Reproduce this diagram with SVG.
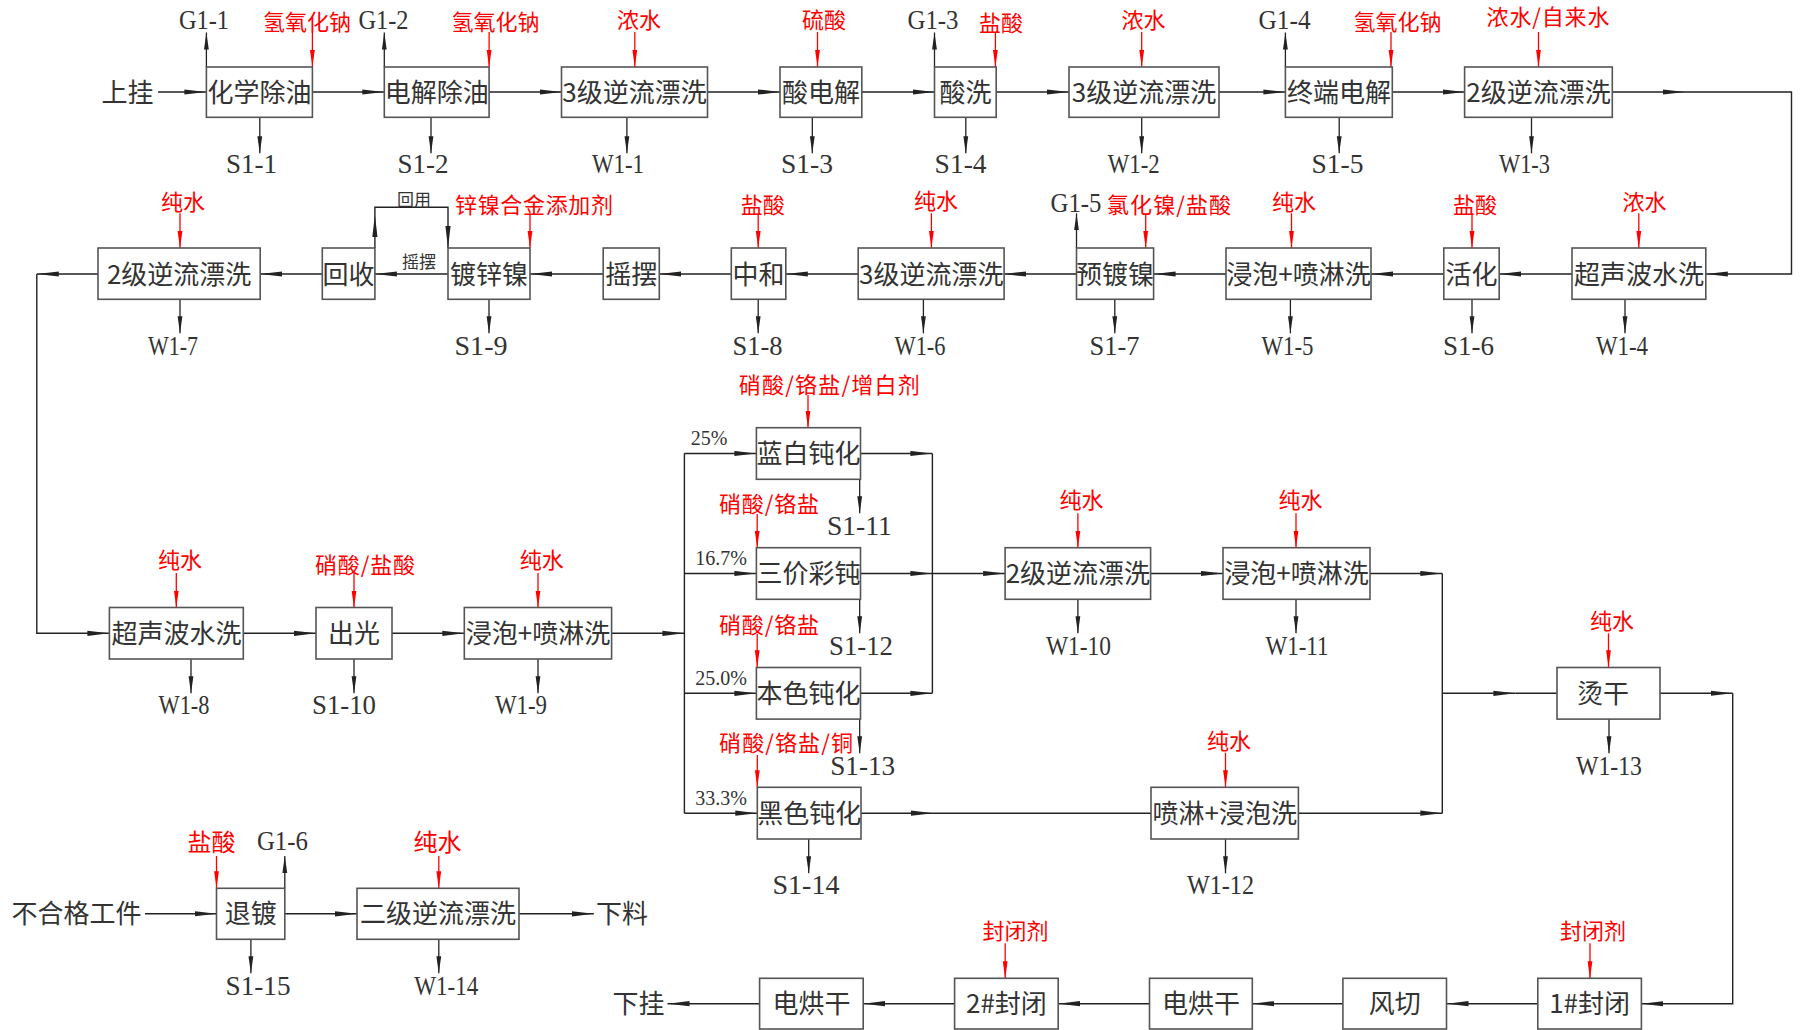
<svg xmlns="http://www.w3.org/2000/svg" width="1803" height="1030" viewBox="0 0 1803 1030">
<style>
.bx{fill:#fff;stroke:#555;stroke-width:1.6}
.t{font-family:"Noto Sans CJK SC","Noto Sans",sans-serif;font-size:26px;fill:#333;text-anchor:middle}
.r{font-family:"Noto Sans CJK SC","Noto Sans",sans-serif;font-size:22px;fill:#ff0000;text-anchor:middle}
.r2{font-size:24px}
.l{font-family:"Liberation Serif",serif;font-size:27px;fill:#333;text-anchor:middle}
.sm{font-family:"Noto Sans CJK SC",sans-serif;font-size:17px;fill:#333;text-anchor:middle}
.p{font-family:"Liberation Serif",serif;font-size:20px;fill:#333;text-anchor:middle}
.c{fill:none;stroke:#222;stroke-width:1.4}
.a{marker-end:url(#a)}
.v{fill:none;stroke:#222;stroke-width:1.3;marker-end:url(#av)}
.rd{fill:none;stroke:#ff0000;stroke-width:1.3;marker-end:url(#ar)}
</style>
<defs>
<marker id="a" viewBox="0 0 22 6" refX="22" refY="3" markerWidth="22" markerHeight="6" markerUnits="userSpaceOnUse" orient="auto"><path d="M0,0.4 L22,3 L0,5.6 Z" fill="#222"/></marker>
<marker id="av" viewBox="0 0 17 6" refX="17" refY="3" markerWidth="17" markerHeight="6" markerUnits="userSpaceOnUse" orient="auto"><path d="M0,0.6 L17,3 L0,5.4 Z" fill="#222"/></marker>
<marker id="ar" viewBox="0 0 17 6" refX="17" refY="3" markerWidth="17" markerHeight="6" markerUnits="userSpaceOnUse" orient="auto"><path d="M0,0.6 L17,3 L0,5.4 Z" fill="#ff0000"/></marker>
</defs>
<rect width="1803" height="1030" fill="#fff"/>

<g id="connectors">
<path class="c a" d="M158,92 H206.4"/>
<path class="c a" d="M312.4,92 H384.3"/>
<path class="c a" d="M489.1,92 H561.5"/>
<path class="c a" d="M707.5,92 H780"/>
<path class="c a" d="M861.8,92 H934.5"/>
<path class="c a" d="M996.2,92 H1069"/>
<path class="c a" d="M1219,92 H1285.4"/>
<path class="c a" d="M1392.3,92 H1464.6"/>
<path class="c a" d="M1612.3,92 H1685"/>
<path class="c a" d="M1685,92 H1791.5 V274 H1705.8"/>
<path class="c a" d="M1572,274 H1499.2"/>
<path class="c a" d="M1443.8,274 H1371"/>
<path class="c a" d="M1226,274 H1153.6"/>
<path class="c a" d="M1076.5,274 H1004.1"/>
<path class="c a" d="M858.2,274 H785.8"/>
<path class="c a" d="M731.3,274 H659.3"/>
<path class="c a" d="M603.2,274 H530"/>
<path class="c a" d="M448,274 H374.9"/>
<path class="c a" d="M322.3,274 H260.2"/>
<path class="c a" d="M98,274 H36.8"/>
<path class="c a" d="M36.8,274 V633.3 H109.4"/>
<path class="c a" d="M374.9,248 V215"/>
<path class="c a" d="M374.9,215 V207.3 H448 V248"/>
<path class="c a" d="M243.3,633.3 H316"/>
<path class="c a" d="M392,633.3 H464.3"/>
<path class="c a" d="M611.6,633.3 H684.4"/>
<path class="c" d="M684.4,453.5 V813.2"/>
<path class="c a" d="M684.4,453.5 H756.4"/>
<path class="c a" d="M684.4,573.5 H756.4"/>
<path class="c a" d="M684.4,693.3 H756.4"/>
<path class="c a" d="M684.4,813.2 H757.3"/>
<path class="c a" d="M860.5,453.5 H932.4"/>
<path class="c a" d="M860.5,573.5 H932.4"/>
<path class="c a" d="M860.5,693.3 H932.4"/>
<path class="c" d="M932.4,453.5 V693.3"/>
<path class="c a" d="M932.4,573.5 H1005.1"/>
<path class="c a" d="M861,813.2 H933"/>
<path class="c" d="M933,813.2 H1151"/>
<path class="c a" d="M1150.6,573.5 H1222.9"/>
<path class="c a" d="M1370,573.5 H1442.3"/>
<path class="c" d="M1442.3,573.5 V813.2"/>
<path class="c a" d="M1298.4,813.2 H1442.3"/>
<path class="c a" d="M1442.3,693.3 H1515.4"/>
<path class="c" d="M1515.4,693.3 H1557"/>
<path class="c a" d="M1660,693.3 H1732.7"/>
<path class="c a" d="M1732.7,693.3 V1003.7 H1641.4"/>
<path class="c a" d="M1537.8,1003.7 H1446.5"/>
<path class="c a" d="M1342.9,1003.7 H1252.3"/>
<path class="c a" d="M1149.5,1003.7 H1058.2"/>
<path class="c a" d="M954.6,1003.7 H863.2"/>
<path class="c a" d="M759.6,1003.7 H667.5"/>
<path class="c a" d="M145,913.8 H216.5"/>
<path class="c a" d="M284.8,913.8 H357"/>
<path class="c a" d="M519,913.8 H593.8"/>

<path class="v" d="M206.4,67 V32.5"/>
<path class="v" d="M384.3,67 V32.5"/>
<path class="v" d="M934.5,67 V32.5"/>
<path class="v" d="M1285.4,67 V32.5"/>
<path class="v" d="M259.8,117.3 V153.3"/>
<path class="v" d="M431,117.3 V153.3"/>
<path class="v" d="M626.9,117.3 V153.3"/>
<path class="v" d="M812.3,117.3 V153.3"/>
<path class="v" d="M965.8,117.3 V153.3"/>
<path class="v" d="M1141.7,117.3 V153.3"/>
<path class="v" d="M1339.2,117.3 V153.3"/>
<path class="v" d="M1531.5,117.3 V153.3"/>
<path class="rd" d="M312.4,32 V67"/>
<path class="rd" d="M489.1,32 V67"/>
<path class="rd" d="M634.8,32 V67"/>
<path class="rd" d="M817.5,32 V67"/>
<path class="rd" d="M995.4,32 V67"/>
<path class="rd" d="M1141.7,32 V67"/>
<path class="rd" d="M1391,32 V67"/>
<path class="rd" d="M1538.5,32 V67"/>
<path class="v" d="M1076.5,248 V213.3"/>
<path class="v" d="M180,299.3 V333.3"/>
<path class="v" d="M489,299.3 V333.3"/>
<path class="v" d="M758.2,299.3 V333.3"/>
<path class="v" d="M923.4,299.3 V333.3"/>
<path class="v" d="M1114.8,299.3 V333.3"/>
<path class="v" d="M1290.4,299.3 V333.3"/>
<path class="v" d="M1472,299.3 V333.3"/>
<path class="v" d="M1625,299.3 V333.3"/>
<path class="rd" d="M180,213.3 V248"/>
<path class="rd" d="M530,213.3 V248"/>
<path class="rd" d="M758.2,213.3 V248"/>
<path class="rd" d="M931.4,213.3 V248"/>
<path class="rd" d="M1145.7,213.3 V248"/>
<path class="rd" d="M1291.5,213.3 V248"/>
<path class="rd" d="M1472,213.3 V248"/>
<path class="rd" d="M1638.8,213.3 V248"/>
<path class="v" d="M191,659 V693.3"/>
<path class="v" d="M354,659 V693.3"/>
<path class="v" d="M538,659 V693.3"/>
<path class="v" d="M859.7,479.3 V513.3"/>
<path class="v" d="M859.7,599.3 V633.3"/>
<path class="v" d="M859.7,719.3 V753.3"/>
<path class="v" d="M808.7,839 V873.3"/>
<path class="v" d="M1077.9,599.3 V633.3"/>
<path class="v" d="M1296,599.3 V633.3"/>
<path class="v" d="M1225.5,839 V873.3"/>
<path class="v" d="M1609,719.3 V753.3"/>
<path class="rd" d="M176.3,573 V607.5"/>
<path class="rd" d="M354,573 V607.5"/>
<path class="rd" d="M538,573 V607.5"/>
<path class="rd" d="M808,395 V427.7"/>
<path class="rd" d="M757.2,514 V547.7"/>
<path class="rd" d="M757.2,634 V667.3"/>
<path class="rd" d="M757.3,755 V787.3"/>
<path class="rd" d="M1077.9,513.3 V547.7"/>
<path class="rd" d="M1296,513.3 V547.7"/>
<path class="rd" d="M1225.5,752.7 V787.3"/>
<path class="rd" d="M1608.5,633.3 V667.3"/>
<path class="rd" d="M1590,943.3 V978.3"/>
<path class="rd" d="M1005.2,943.3 V978.3"/>
<path class="rd" d="M216.5,856 V888.3"/>
<path class="v" d="M284.8,888.3 V856"/>
<path class="v" d="M250.9,939.3 V973.3"/>
<path class="rd" d="M438.8,856 V888.3"/>
<path class="v" d="M438.8,939.3 V973.3"/>
</g>

<g id="start"><text class="t" x="127.5" y="101.5">上挂</text></g>
<g id="n-chem-degrease"><rect class="bx" x="206.4" y="67" width="106" height="50.3"/><text class="t" x="259.4" y="101.5">化学除油</text></g>
<g id="n-elec-degrease"><rect class="bx" x="384.3" y="67" width="104.8" height="50.3"/><text class="t" x="436.7" y="101.5">电解除油</text></g>
<g id="n-rinse1"><rect class="bx" x="561.5" y="67" width="146" height="50.3"/><text class="t" x="634.5" y="101.5">3级逆流漂洗</text></g>
<g id="n-acid-elec"><rect class="bx" x="780" y="67" width="81.8" height="50.3"/><text class="t" x="820.9" y="101.5">酸电解</text></g>
<g id="n-pickle"><rect class="bx" x="934.5" y="67" width="61.7" height="50.3"/><text class="t" x="965.4" y="101.5">酸洗</text></g>
<g id="n-rinse2"><rect class="bx" x="1069" y="67" width="150" height="50.3"/><text class="t" x="1144" y="101.5">3级逆流漂洗</text></g>
<g id="n-final-elec"><rect class="bx" x="1285.4" y="67" width="106.9" height="50.3"/><text class="t" x="1338.9" y="101.5">终端电解</text></g>
<g id="n-rinse3"><rect class="bx" x="1464.6" y="67" width="147.7" height="50.3"/><text class="t" x="1538.5" y="101.5">2级逆流漂洗</text></g>

<g id="n-ultra1"><rect class="bx" x="1572" y="248" width="133.8" height="51.3"/><text class="t" x="1638.9" y="283.5">超声波水洗</text></g>
<g id="n-activate"><rect class="bx" x="1443.8" y="248" width="55.4" height="51.3"/><text class="t" x="1471.5" y="283.5">活化</text></g>
<g id="n-soak1"><rect class="bx" x="1226" y="248" width="145" height="51.3"/><text class="t" x="1298.5" y="283.5">浸泡+喷淋洗</text></g>
<g id="n-preplate"><rect class="bx" x="1076.5" y="248" width="77.1" height="51.3"/><text class="t" x="1115" y="283.5">预镀镍</text></g>
<g id="n-rinse4"><rect class="bx" x="858.2" y="248" width="145.9" height="51.3"/><text class="t" x="931.2" y="283.5">3级逆流漂洗</text></g>
<g id="n-neutral"><rect class="bx" x="731.3" y="248" width="54.5" height="51.3"/><text class="t" x="758.6" y="283.5">中和</text></g>
<g id="n-swing"><rect class="bx" x="603.2" y="248" width="56.1" height="51.3"/><text class="t" x="631.3" y="283.5">摇摆</text></g>
<g id="n-znni"><rect class="bx" x="448" y="248" width="82" height="51.3"/><text class="t" x="489" y="283.5">镀锌镍</text></g>
<g id="n-recover"><rect class="bx" x="322.3" y="248" width="52.6" height="51.3"/><text class="t" x="348.6" y="283.5">回收</text></g>
<g id="n-rinse5"><rect class="bx" x="98" y="248" width="162.2" height="51.3"/><text class="t" x="179.1" y="283.5">2级逆流漂洗</text></g>
<g id="lbl-loop"><text class="sm" x="414" y="205.5">回用</text><text class="sm" x="419" y="268" font-size="18">摇摆</text></g>

<g id="n-ultra2"><rect class="bx" x="109.4" y="607.5" width="133.9" height="51.5"/><text class="t" x="176.4" y="643">超声波水洗</text></g>
<g id="n-bright"><rect class="bx" x="316" y="607.5" width="76" height="51.5"/><text class="t" x="354" y="643">出光</text></g>
<g id="n-soak2"><rect class="bx" x="464.3" y="607.5" width="147.3" height="51.5"/><text class="t" x="538" y="643">浸泡+喷淋洗</text></g>
<g id="n-blue"><rect class="bx" x="756.4" y="427.7" width="104.1" height="51.6"/><text class="t" x="808.5" y="463">蓝白钝化</text></g>
<g id="n-tri"><rect class="bx" x="756.4" y="547.7" width="104.1" height="51.6"/><text class="t" x="808.5" y="583">三价彩钝</text></g>
<g id="n-natural"><rect class="bx" x="756.4" y="667.5" width="104.1" height="51.6"/><text class="t" x="808.5" y="702.8">本色钝化</text></g>
<g id="n-black"><rect class="bx" x="757.3" y="787.3" width="103.7" height="51.7"/><text class="t" x="809.2" y="822.7">黑色钝化</text></g>
<g id="n-rinse6"><rect class="bx" x="1005.1" y="547.7" width="145.5" height="51.6"/><text class="t" x="1077.9" y="583">2级逆流漂洗</text></g>
<g id="n-soak3"><rect class="bx" x="1223" y="547.7" width="147" height="51.6"/><text class="t" x="1296.5" y="583">浸泡+喷淋洗</text></g>
<g id="n-spray"><rect class="bx" x="1151" y="787.3" width="147.4" height="51.7"/><text class="t" x="1224.7" y="822.7">喷淋+浸泡洗</text></g>
<g id="n-hotdry"><rect class="bx" x="1557" y="667.5" width="103" height="51.6"/><text class="t" x="1603" y="702.8">烫干</text></g>
<g id="pct"><text class="p" x="709" y="445">25%</text><text class="p" x="721" y="565">16.7%</text><text class="p" x="721" y="685">25.0%</text><text class="p" x="721" y="805">33.3%</text></g>

<g id="n-seal1"><rect class="bx" x="1537.8" y="978.3" width="103.6" height="50.7"/><text class="t" x="1589.6" y="1013.2">1#封闭</text></g>
<g id="n-aircut"><rect class="bx" x="1342.9" y="978.3" width="103.6" height="50.7"/><text class="t" x="1394.7" y="1013.2">风切</text></g>
<g id="n-dry1"><rect class="bx" x="1149.5" y="978.3" width="102.8" height="50.7"/><text class="t" x="1200.9" y="1013.2">电烘干</text></g>
<g id="n-seal2"><rect class="bx" x="954.6" y="978.3" width="103.6" height="50.7"/><text class="t" x="1006.4" y="1013.2">2#封闭</text></g>
<g id="n-dry2"><rect class="bx" x="759.6" y="978.3" width="103.6" height="50.7"/><text class="t" x="811.4" y="1013.2">电烘干</text></g>
<g id="end"><text class="t" x="638.4" y="1013.2">下挂</text></g>

<g id="reject"><text class="t" x="76.5" y="923.3">不合格工件</text></g>
<g id="n-strip"><rect class="bx" x="216.5" y="888.3" width="68.3" height="51"/><text class="t" x="250.7" y="923.3">退镀</text></g>
<g id="n-rinse7"><rect class="bx" x="357" y="888.3" width="162" height="51"/><text class="t" x="438" y="923.3">二级逆流漂洗</text></g>
<g id="unload"><text class="t" x="622" y="923.3">下料</text></g>

<g id="inputs">
<text class="r" x="307" y="30">氢氧化钠</text>
<text class="r" x="495.5" y="30">氢氧化钠</text>
<text class="r" x="639" y="27.5">浓水</text>
<text class="r" x="824" y="28">硫酸</text>
<text class="r" x="1001" y="31">盐酸</text>
<text class="r" x="1143.5" y="27.5">浓水</text>
<text class="r" x="1397.5" y="30">氢氧化钠</text>
<text class="r" x="1548" y="24.5" textLength="123" lengthAdjust="spacing">浓水/自来水</text>
<text class="r" x="183" y="209.5">纯水</text>
<text class="r" x="534" y="212.5" textLength="158" lengthAdjust="spacing">锌镍合金添加剂</text>
<text class="r" x="762.7" y="213">盐酸</text>
<text class="r" x="936" y="209">纯水</text>
<text class="r" x="1169" y="212.5" textLength="124" lengthAdjust="spacing">氯化镍/盐酸</text>
<text class="r" x="1294" y="210">纯水</text>
<text class="r" x="1475" y="213">盐酸</text>
<text class="r" x="1644.5" y="210">浓水</text>
<text class="r" x="180" y="568">纯水</text>
<text class="r" x="365" y="572.5" textLength="100" lengthAdjust="spacing">硝酸/盐酸</text>
<text class="r" x="541.7" y="568">纯水</text>
<text class="r" x="829.3" y="392.5" textLength="181" lengthAdjust="spacing">硝酸/铬盐/增白剂</text>
<text class="r" x="769" y="512" textLength="100" lengthAdjust="spacing">硝酸/铬盐</text>
<text class="r" x="769" y="632.5" textLength="100" lengthAdjust="spacing">硝酸/铬盐</text>
<text class="r" x="786" y="751" textLength="134" lengthAdjust="spacing">硝酸/铬盐/铜</text>
<text class="r" x="1081.5" y="508">纯水</text>
<text class="r" x="1300.5" y="508">纯水</text>
<text class="r" x="1229" y="748.5">纯水</text>
<text class="r" x="1612" y="628.5">纯水</text>
<text class="r" x="1593" y="939">封闭剂</text>
<text class="r" x="1015.5" y="939">封闭剂</text>
<text class="r r2" x="211.6" y="851">盐酸</text>
<text class="r r2" x="437.5" y="851">纯水</text>
</g>

<g id="outputs">
<text class="l" x="204" y="29.3" textLength="50" lengthAdjust="spacingAndGlyphs">G1-1</text>
<text class="l" x="383.5" y="29.3" textLength="50" lengthAdjust="spacingAndGlyphs">G1-2</text>
<text class="l" x="933" y="28.5" textLength="51" lengthAdjust="spacingAndGlyphs">G1-3</text>
<text class="l" x="1284.6" y="28.5" textLength="52" lengthAdjust="spacingAndGlyphs">G1-4</text>
<text class="l" x="251.5" y="173" textLength="51" lengthAdjust="spacingAndGlyphs">S1-1</text>
<text class="l" x="423" y="173" textLength="51" lengthAdjust="spacingAndGlyphs">S1-2</text>
<text class="l" x="618" y="173" textLength="52" lengthAdjust="spacingAndGlyphs">W1-1</text>
<text class="l" x="807" y="173" textLength="52" lengthAdjust="spacingAndGlyphs">S1-3</text>
<text class="l" x="960.6" y="173" textLength="52" lengthAdjust="spacingAndGlyphs">S1-4</text>
<text class="l" x="1133.7" y="173" textLength="52" lengthAdjust="spacingAndGlyphs">W1-2</text>
<text class="l" x="1337.5" y="173" textLength="52" lengthAdjust="spacingAndGlyphs">S1-5</text>
<text class="l" x="1524.5" y="173" textLength="51" lengthAdjust="spacingAndGlyphs">W1-3</text>
<text class="l" x="1076" y="211.5" textLength="51" lengthAdjust="spacingAndGlyphs">G1-5</text>
<text class="l" x="173" y="355" textLength="50" lengthAdjust="spacingAndGlyphs">W1-7</text>
<text class="l" x="481" y="355" textLength="53" lengthAdjust="spacingAndGlyphs">S1-9</text>
<text class="l" x="757.6" y="355" textLength="50" lengthAdjust="spacingAndGlyphs">S1-8</text>
<text class="l" x="920" y="355" textLength="51" lengthAdjust="spacingAndGlyphs">W1-6</text>
<text class="l" x="1114.6" y="355" textLength="50" lengthAdjust="spacingAndGlyphs">S1-7</text>
<text class="l" x="1287.5" y="355" textLength="52" lengthAdjust="spacingAndGlyphs">W1-5</text>
<text class="l" x="1468.5" y="355" textLength="51" lengthAdjust="spacingAndGlyphs">S1-6</text>
<text class="l" x="1622" y="355" textLength="52" lengthAdjust="spacingAndGlyphs">W1-4</text>
<text class="l" x="184" y="714" textLength="51" lengthAdjust="spacingAndGlyphs">W1-8</text>
<text class="l" x="344" y="714" textLength="64" lengthAdjust="spacingAndGlyphs">S1-10</text>
<text class="l" x="521" y="714" textLength="52" lengthAdjust="spacingAndGlyphs">W1-9</text>
<text class="l" x="859.4" y="535" textLength="65" lengthAdjust="spacingAndGlyphs">S1-11</text>
<text class="l" x="861" y="655" textLength="64" lengthAdjust="spacingAndGlyphs">S1-12</text>
<text class="l" x="862.7" y="775" textLength="65" lengthAdjust="spacingAndGlyphs">S1-13</text>
<text class="l" x="806" y="893.5" textLength="67" lengthAdjust="spacingAndGlyphs">S1-14</text>
<text class="l" x="1078.5" y="655" textLength="65" lengthAdjust="spacingAndGlyphs">W1-10</text>
<text class="l" x="1297" y="655" textLength="63" lengthAdjust="spacingAndGlyphs">W1-11</text>
<text class="l" x="1220.5" y="893.5" textLength="67" lengthAdjust="spacingAndGlyphs">W1-12</text>
<text class="l" x="1609" y="775" textLength="66" lengthAdjust="spacingAndGlyphs">W1-13</text>
<text class="l" x="282.4" y="850" textLength="51" lengthAdjust="spacingAndGlyphs">G1-6</text>
<text class="l" x="258" y="995" textLength="65" lengthAdjust="spacingAndGlyphs">S1-15</text>
<text class="l" x="446.3" y="995" textLength="64" lengthAdjust="spacingAndGlyphs">W1-14</text>
</g>
</svg>
